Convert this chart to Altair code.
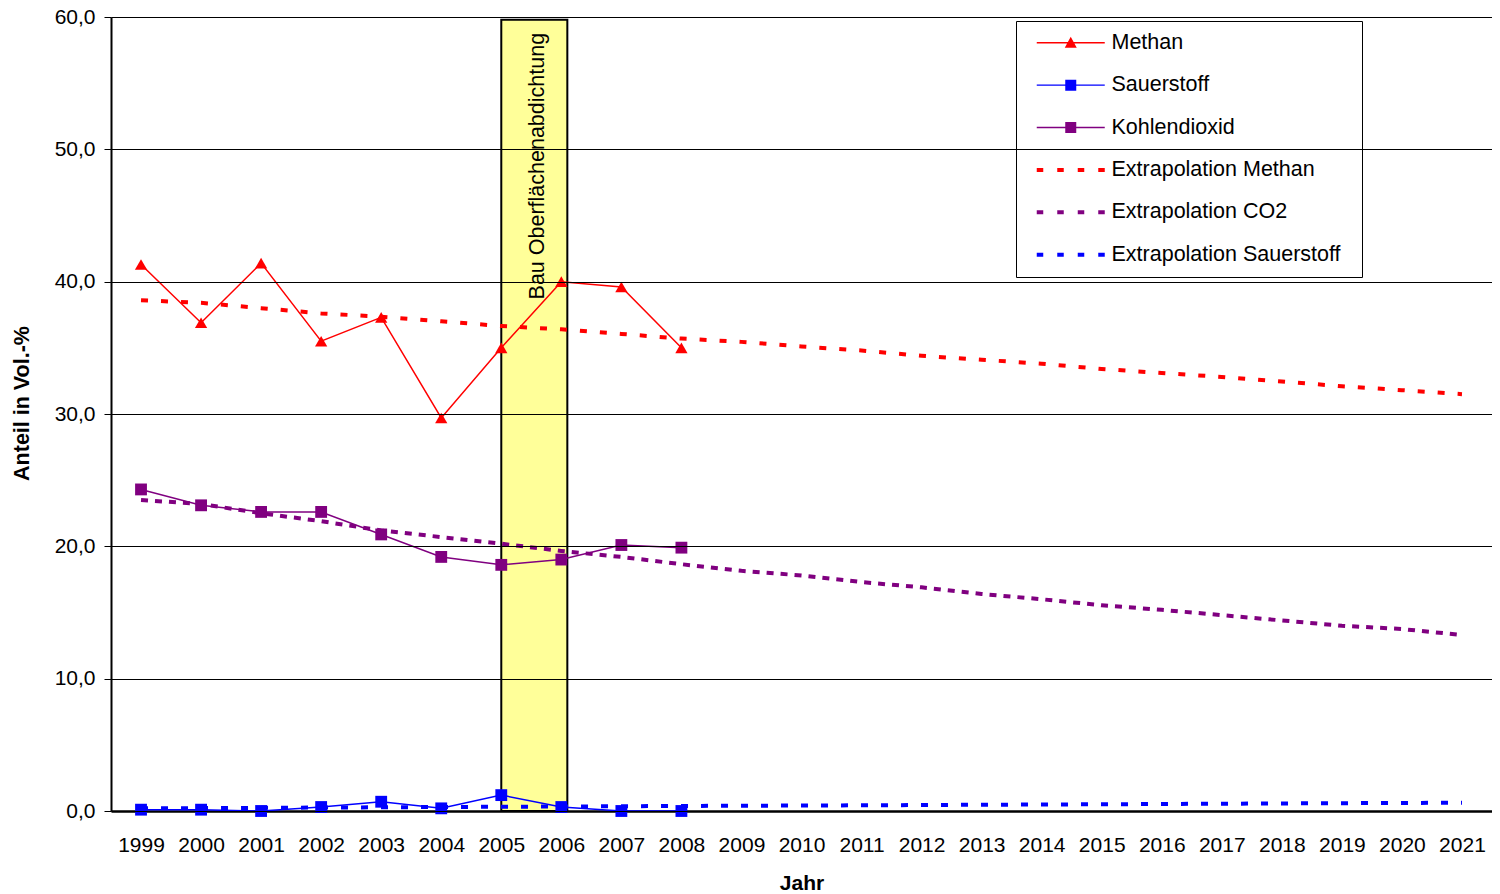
import altair as alt
import pandas as pd

# ---------------- data ----------------
years_measured = [1999, 2000, 2001, 2002, 2003, 2004, 2005, 2006, 2007, 2008]
years_extrap = [1999, 2000, 2001, 2002, 2003, 2004, 2005, 2006, 2007, 2008, 2009, 2010,
                2011, 2012, 2013, 2014, 2015, 2016, 2017, 2018, 2019, 2020, 2021]

methan = [41.3, 36.9, 41.4, 35.5, 37.3, 29.7, 35.0, 40.0, 39.6, 35.0]
sauerstoff = [0.1, 0.1, 0.0, 0.3, 0.7, 0.2, 1.2, 0.3, 0.0, 0.0]
kohlendioxid = [24.3, 23.1, 22.6, 22.6, 20.9, 19.2, 18.6, 19.0, 20.1, 19.9]

extrap_methan = [38.6, 38.4, 38.0, 37.6, 37.35, 37.0, 36.65, 36.4, 36.05, 35.7,
                 35.45, 35.1, 34.8, 34.4, 34.1, 33.8, 33.4, 33.1, 32.8, 32.45, 32.1, 31.8, 31.5]
extrap_co2 = [23.5, 23.2, 22.5, 21.9, 21.2, 20.7, 20.2, 19.65, 19.2, 18.65,
              18.15, 17.8, 17.3, 16.9, 16.4, 16.0, 15.55, 15.2, 14.8, 14.4, 14.0, 13.75, 13.3]
extrap_sauerstoff = [0.20, 0.22, 0.24, 0.26, 0.28, 0.30, 0.32, 0.34, 0.36, 0.38, 0.40, 0.41,
                     0.43, 0.45, 0.47, 0.49, 0.51, 0.53, 0.55, 0.57, 0.59, 0.61, 0.62]

gases = ["Methan", "Sauerstoff", "Kohlendioxid"]
legend_labels = ["Methan", "Sauerstoff", "Kohlendioxid",
                 "Extrapolation Methan", "Extrapolation CO2", "Extrapolation Sauerstoff"]

band_label = ["Bau Oberflächenabdichtung"]
band_years = [2005.0, 2006.1]
band_values = [0.0, 59.8]
band_label_value = [58.8]

y_ticks = [0, 10, 20, 30, 40, 50, 60]

# ---------------- styles ----------------
RED, BLUE, PURPLE = "#FF0000", "#0000FF", "#800080"
gas_colors = [RED, BLUE, PURPLE]
gas_dashes = [[7, 13], [7, 13], [7, 7]]
legend_colors = [RED, BLUE, PURPLE, RED, PURPLE, BLUE]

LINE = "M-0.1,-0.07H6.7V0.07H-0.1Z"
TRI = "M3.3,-0.6L3.9,0.5L2.7,0.5Z"
SQR = "M2.75,-0.55H3.85V0.55H2.75Z"
DASH = ("M-0.1,-0.2H0.55V0.2H-0.1Z M1.95,-0.2H2.6V0.2H1.95Z "
        "M4.0,-0.2H4.65V0.2H4.0Z M6.05,-0.2H6.7V0.2H6.05Z")
WIDEN = "M31.3,0L31.3,0"   # invisible point that widens the legend box
legend_shapes = [LINE + " " + TRI + " " + WIDEN, LINE + " " + SQR, LINE + " " + SQR,
                 DASH, DASH, DASH]

FONT = "Liberation Sans, Arial, sans-serif"

# ---------------- tables ----------------
measured = pd.DataFrame({
    "year": years_measured * 3,
    "value": methan + sauerstoff + kohlendioxid,
    "gas": ["Methan"] * 10 + ["Sauerstoff"] * 10 + ["Kohlendioxid"] * 10,
})
extrap = pd.DataFrame({
    "year": years_extrap * 3,
    "value": extrap_methan + extrap_sauerstoff + extrap_co2,
    "gas": ["Methan"] * 23 + ["Sauerstoff"] * 23 + ["Kohlendioxid"] * 23,
})
band = pd.DataFrame({"year": [band_years[0]], "year2": [band_years[1]],
                     "value": [band_values[0]], "value2": [band_values[1]]})
band_text = pd.DataFrame({"year": [(band_years[0] + band_years[1]) / 2],
                          "value": band_label_value, "label": band_label})
legend_df = pd.DataFrame({"series": legend_labels})

# ---------------- encodings ----------------
x_scale = alt.Scale(domain=[1998.5, 2021.5], nice=False, zero=False)
y_scale = alt.Scale(domain=[0, 60], nice=False, zero=True)

x_axis = alt.Axis(values=years_extrap, format="d", ticks=False, grid=False,
                  domainColor="black", domainWidth=2.5, labelPadding=23,
                  labelFontSize=21, labelFont=FONT, labelColor="black",
                  labelOverlap=False, labelFlush=False,
                  titleFont=FONT, titleFontSize=21, titleFontWeight="bold",
                  titleColor="black", titlePadding=17)
y_axis = alt.Axis(values=y_ticks,
                  labelExpr="replace(format(datum.value, '.1f'), '.', ',')",
                  grid=True, gridColor="#000000", gridWidth=1,
                  tickColor="black", tickSize=7, domainColor="black", domainWidth=2,
                  labelPadding=9, labelFontSize=21, labelFont=FONT, labelColor="black",
                  titleFont=FONT, titleFontSize=21.5, titleFontWeight="bold", titleColor="black",
                  titleX=-89, titleY=386, titleAngle=270, titleAlign="center",
                  titleBaseline="middle", zindex=1)

X = alt.X("year:Q", scale=x_scale, axis=x_axis, title="Jahr")
Y = alt.Y("value:Q", scale=y_scale, axis=y_axis, title="Anteil in Vol.-%")

stroke_scale = alt.Scale(domain=gases, range=gas_colors)

band_layer = alt.Chart(band).mark_rect(fill="#FFFF99", stroke="black", strokeWidth=2).encode(
    x=X, x2="year2:Q", y=Y, y2="value2:Q")

extrap_layer = alt.Chart(extrap).mark_line(strokeWidth=4, strokeCap="butt").encode(
    x=X, y=Y,
    stroke=alt.Stroke("gas:N", scale=stroke_scale, legend=None),
    strokeDash=alt.StrokeDash("gas:N", scale=alt.Scale(domain=gases, range=gas_dashes), legend=None),
    detail="gas:N")

line_layer = alt.Chart(measured).mark_line(strokeWidth=1.5).encode(
    x=X, y=Y, stroke=alt.Stroke("gas:N", scale=stroke_scale, legend=None), detail="gas:N")

tri_layer = alt.Chart(measured).transform_filter(alt.datum.gas == "Methan").mark_point(
    shape="triangle-up", filled=True, size=150, opacity=1, color=RED).encode(x=X, y=Y)

sq_layer = alt.Chart(measured).transform_filter(alt.datum.gas != "Methan").mark_point(
    shape="square", filled=True, size=140, opacity=1, strokeWidth=0).encode(
    x=X, y=Y, fill=alt.Fill("gas:N", scale=alt.Scale(domain=gases, range=gas_colors), legend=None))

legend_def = alt.Legend(title=None, orient="none", legendX=905, legendY=4, padding=11,
                        fillColor="white", strokeColor="black",
                        symbolSize=400, symbolStrokeWidth=0, symbolOpacity=1,
                        labelFont=FONT, labelFontSize=21.5, labelColor="black",
                        labelOffset=63, rowPadding=19.4, labelLimit=0)

legend_layer = alt.Chart(legend_df).transform_filter("false").mark_point(
    filled=True, opacity=1).encode(
    color=alt.Color("series:N", scale=alt.Scale(domain=legend_labels, range=legend_colors),
                    legend=legend_def),
    shape=alt.Shape("series:N", scale=alt.Scale(domain=legend_labels, range=legend_shapes),
                    legend=legend_def))

text_layer = alt.Chart(band_text).mark_text(angle=270, align="right", baseline="middle",
                                            font=FONT, fontSize=21.5, color="black", dy=4).encode(
    x=X, y=Y, text="label:N")

chart = alt.layer(band_layer, extrap_layer, line_layer, tri_layer, sq_layer,
                  text_layer, legend_layer).properties(
    width=1381, height=794,
    autosize=alt.AutoSizeParams(type="none"),
    padding={"left": 103, "top": 9, "right": 0, "bottom": 82},
    background="white",
).configure_view(stroke="black", strokeWidth=1.5).configure(font=FONT)

chart.save("out.html", embed_options={"renderer": "svg", "actions": False})
